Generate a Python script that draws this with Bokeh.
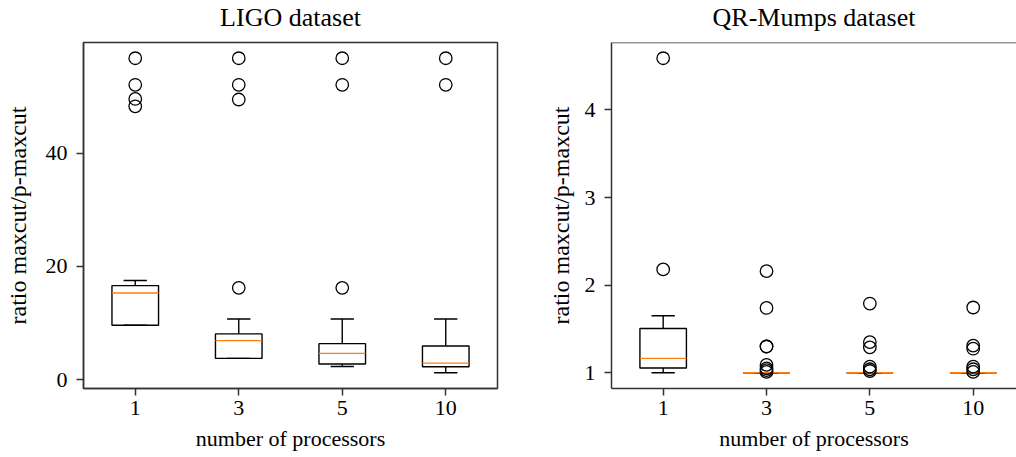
from bokeh.plotting import figure
from bokeh.layouts import row
from bokeh.models import Range1d, FixedTicker, Span
from bokeh.embed import file_html
from bokeh.resources import INLINE

# ---------------- data ----------------
procs = ["1", "3", "5", "10"]

ligo_q1 = [9.6, 3.73, 2.73, 2.25]
ligo_med = [15.3, 6.87, 4.62, 2.9]
ligo_q3 = [16.6, 8.06, 6.34, 5.93]
ligo_lo = [9.6, 3.73, 2.31, 1.19]
ligo_hi = [17.5, 10.7, 10.7, 10.7]
ligo_out = [
    [56.8, 52.1, 49.6, 48.3],
    [56.8, 52.1, 49.5, 16.2],
    [56.8, 52.1, 16.2],
    [56.8, 52.1],
]
ligo_yticks = [0, 20, 40]

qr_q1 = [1.054, 1.0, 1.0, 1.0]
qr_med = [1.164, 1.0, 1.0, 1.0]
qr_q3 = [1.505, 1.0, 1.0, 1.0]
qr_lo = [1.0, 1.0, 1.0, 1.0]
qr_hi = [1.65, 1.0, 1.0, 1.0]
qr_out = [
    [4.59, 2.18],
    [2.16, 1.74, 1.30, 1.30, 1.09, 1.05, 1.03, 1.01],
    [1.79, 1.35, 1.29, 1.07, 1.04, 1.02],
    [1.745, 1.31, 1.275, 1.07, 1.04, 1.01],
]
qr_yticks = [1, 2, 3, 4]

# ---------------- style ----------------
FONT = "Liberation Serif"
FS = "22px"
YLAB_FS = "24px"
TITLE_FS = "26px"
BOX_HALF = 0.225
CAP_HALF = 0.1125
LINE = "black"
SPINE = "#333333"
ORANGE = "#ff7f0e"


def make_fig(title, q1, med, q3, lo, hi, outliers, yticks, width,
             x_end, border_left, border_right, show_right_outline, ylab_standoff):
    pos = list(range(1, len(procs) + 1))
    all_vals = lo + hi + [v for o in outliers for v in o]
    vmin, vmax = min(all_vals), max(all_vals)
    pad = 0.05 * (vmax - vmin)
    p = figure(width=width, height=460, output_backend="svg",
               toolbar_location=None,
               x_range=Range1d(0.5, x_end),
               y_range=Range1d(vmin - pad, vmax + pad),
               min_border_left=border_left, min_border_right=border_right,
               min_border_top=49, min_border_bottom=62,
               title=title)
    p.title.text_font = FONT
    p.title.text_font_size = TITLE_FS
    p.title.text_font_style = "normal"
    p.title.text_color = "black"
    p.title.align = "center"
    p.title.vertical_align = "top"
    p.title.standoff = 17
    p.grid.visible = False
    p.background_fill_color = "white"
    p.border_fill_color = "white"
    if show_right_outline:
        p.outline_line_color = SPINE
        p.outline_line_width = 1.5
    else:
        p.outline_line_color = None
        p.add_layout(Span(location=vmax + pad, dimension="width",
                          line_color=SPINE, line_width=1.5))

    # boxes
    p.quad(left=[x - BOX_HALF for x in pos], right=[x + BOX_HALF for x in pos],
           bottom=q1, top=q3, fill_color=None, line_color=LINE, line_width=1.4)
    # whiskers
    p.segment(x0=pos, y0=q3, x1=pos, y1=hi, line_color=LINE, line_width=1.4)
    p.segment(x0=pos, y0=q1, x1=pos, y1=lo, line_color=LINE, line_width=1.4)
    # caps
    p.segment(x0=[x - CAP_HALF for x in pos], y0=hi,
              x1=[x + CAP_HALF for x in pos], y1=hi, line_color=LINE, line_width=1.4)
    p.segment(x0=[x - CAP_HALF for x in pos], y0=lo,
              x1=[x + CAP_HALF for x in pos], y1=lo, line_color=LINE, line_width=1.4)
    # medians
    p.segment(x0=[x - BOX_HALF for x in pos], y0=med,
              x1=[x + BOX_HALF for x in pos], y1=med, line_color=ORANGE, line_width=1.4)
    # outliers
    fx, fy = [], []
    for x, vals in zip(pos, outliers):
        for v in vals:
            fx.append(x)
            fy.append(v)
    p.scatter(fx, fy, marker="circle", size=12.5, fill_color=None,
              line_color=LINE, line_width=1.3)

    p.xaxis.ticker = FixedTicker(ticks=pos)
    p.xaxis.major_label_overrides = {x: lab for x, lab in zip(pos, procs)}
    p.yaxis.ticker = FixedTicker(ticks=yticks)
    p.xaxis.axis_label = "number of processors"
    p.yaxis.axis_label = "ratio maxcut/p-maxcut"
    for ax in p.axis:
        ax.major_tick_out = 7
        ax.major_tick_in = 0
        ax.minor_tick_out = 0
        ax.minor_tick_in = 0
        ax.axis_line_color = SPINE
        ax.axis_line_width = 1.5
        ax.major_tick_line_color = SPINE
        ax.major_tick_line_width = 1.5
        ax.major_label_text_font = FONT
        ax.major_label_text_font_size = FS
        ax.major_label_text_color = "black"
        ax.axis_label_text_font = FONT
        ax.axis_label_text_font_size = FS
        ax.axis_label_text_font_style = "normal"
        ax.axis_label_text_color = "black"
    p.yaxis.axis_label_text_font_size = YLAB_FS
    p.xaxis.major_label_standoff = 5
    p.xaxis.axis_label_standoff = 8
    p.yaxis.major_label_standoff = 9
    p.yaxis.axis_label_standoff = ylab_standoff
    return p


p1 = make_fig("LIGO dataset", ligo_q1, ligo_med, ligo_q3, ligo_lo, ligo_hi,
              ligo_out, ligo_yticks, 535, 4.5, 83, 38, True, 12)
p2 = make_fig("QR-Mumps dataset", qr_q1, qr_med, qr_q3, qr_lo, qr_hi,
              qr_out, qr_yticks, 481, 4.419, 76, 0, False, 8)

layout = row(p1, p2, styles={"margin-top": "-7px"})
open("out.html", "w").write(file_html(layout, INLINE))
